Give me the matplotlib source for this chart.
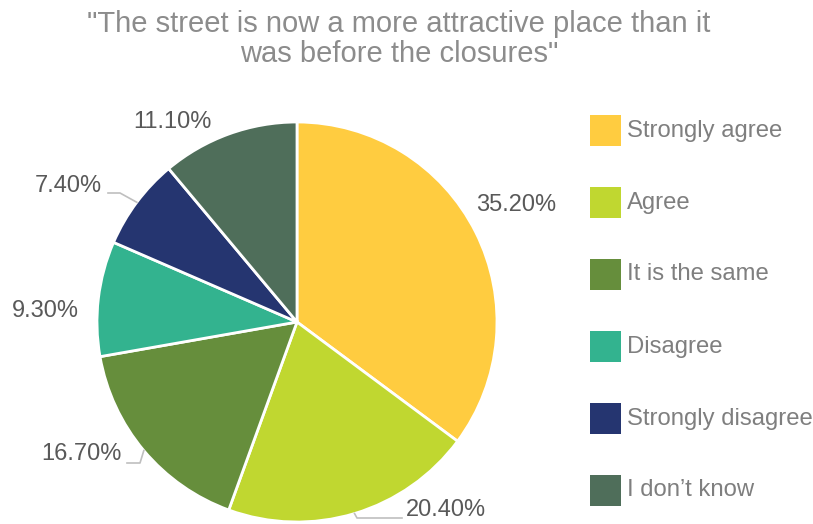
import matplotlib.pyplot as plt
import numpy as np
from matplotlib.patches import Rectangle

plt.rcParams['font.family'] = ['Liberation Sans', 'DejaVu Sans']

categories = ['Strongly agree', 'Agree', 'It is the same', 'Disagree',
              'Strongly disagree', 'I don\u2019t know']
shares = [35.2, 20.4, 16.7, 9.3, 7.4, 11.1]
colors = ['#FFCC40', '#C0D730', '#668E3C', '#33B38F', '#253570', '#4F6E5A']

# label placement in pixel units (y up), and knee points of leader lines
label_pos = [(516, 319), (446, 14), (81, 70), (45, 213), (68, 338), (172, 402)]
leader_knee = {1: [(357, 6), (402, 6)], 2: [(140, 61), (127, 61)],
               4: [(120, 331), (108, 331)]}

W, H = 813, 524
fig = plt.figure(figsize=(W / 100, H / 100), dpi=100)
ax = fig.add_axes([0, 0, 1, 1])

cx, cy, r = 297, 202, 200
wedges, _ = ax.pie(shares, colors=colors, startangle=90, counterclock=False,
                   center=(cx, cy), radius=r,
                   wedgeprops=dict(edgecolor='white', linewidth=2))
ax.set_xlim(0, W)
ax.set_ylim(0, H)
ax.set_aspect('auto')
ax.axis('off')

for i, (w, (lx, ly)) in enumerate(zip(wedges, label_pos)):
    ax.text(lx, ly, f'{shares[i]:.2f}%', ha='center', va='center',
            fontsize=17, color='#595959')
    if i in leader_knee:
        mid = np.deg2rad((w.theta1 + w.theta2) / 2)
        pts = [(cx + r * np.cos(mid), cy + r * np.sin(mid))] + leader_knee[i]
        xs, ys = zip(*pts)
        ax.plot(xs, ys, color='#BFBFBF', linewidth=1.2)

# legend
for i, (name, c) in enumerate(zip(categories, colors)):
    yc = H - (130.5 + 72 * i)
    ax.add_patch(Rectangle((590, yc - 15.5), 31, 31, facecolor=c,
                           edgecolor='none'))
    ax.text(627, yc, name, ha='left', va='center', fontsize=17.2,
            color='#7F7F7F')

fig.text(399 / W, 1 - 39 / H,
         '"The street is now a more attractive place than it\nwas before the closures"',
         ha='center', va='center', fontsize=21, color='#8C8C8C',
         linespacing=1.12)

fig.savefig('out.png', dpi=100)
